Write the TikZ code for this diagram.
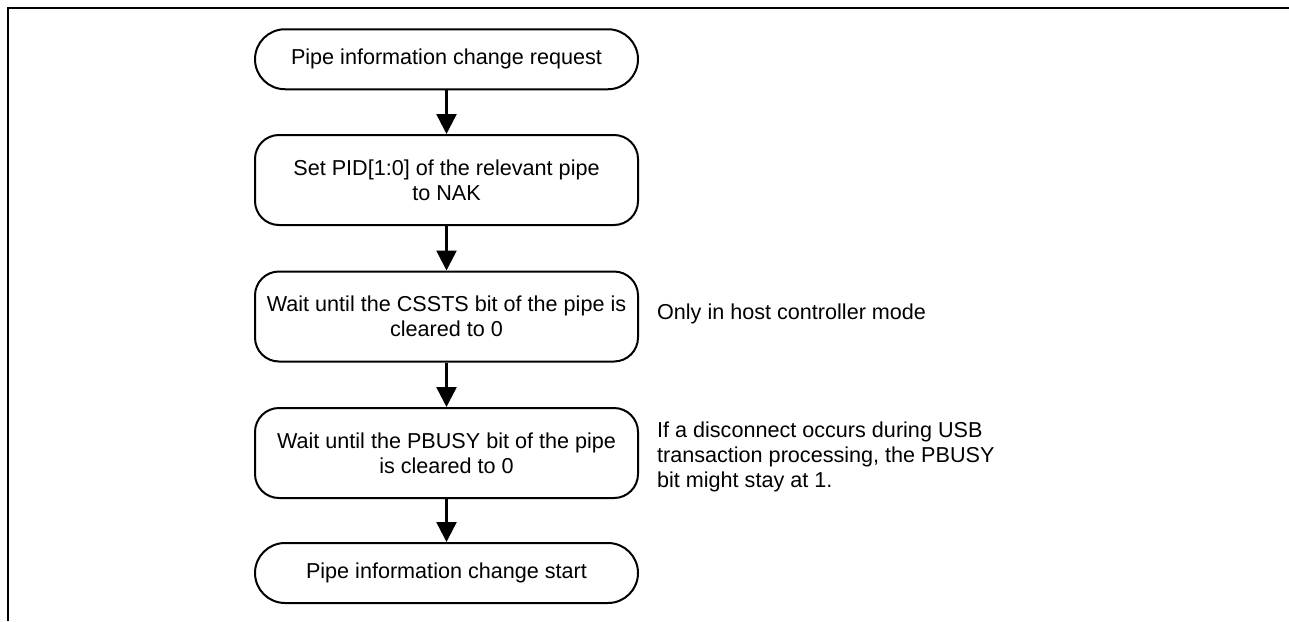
\documentclass[tikz,border=0pt]{standalone}
\usepackage{fontspec}
\setmainfont{Liberation Sans}
\usetikzlibrary{arrows.meta}
\tikzset{
  basefont/.style={font=\fontsize{10.8pt}{12.5pt}\selectfont},
  terminal/.style={draw, line width=1pt, rounded corners=15pt, minimum width=191.5pt, minimum height=30pt, align=center, inner sep=0pt, basefont},
  process/.style={draw, line width=1pt, rounded corners=12pt, minimum width=191.5pt, minimum height=45pt, align=center, inner sep=0pt, basefont},
  note/.style={align=left, inner sep=0pt, basefont},
  flow/.style={line width=1.25pt, -{Triangle[length=10pt,width=10pt]}},
  frame/.style={line width=1.25pt}
}
\begin{document}
\begin{tikzpicture}[x=0.5pt, y=-0.5pt]
\useasboundingbox (0,0) rectangle (1289,621);
\coordinate (fa) at (1289,8);
\coordinate (fb) at (8,8);
\coordinate (fc) at (8,621);
\draw[frame] (fa) -- (fb) -- (fc);

\node[terminal] (b1) at (446.5,59.25) {Pipe information change request};
\node[process] (b2) at (446.5,180) {Set PID[1:0] of the relevant pipe\\to NAK};
\node[process] (b3) at (446.5,316.5) {Wait until the CSSTS bit of the pipe is\\cleared to 0};
\node[process] (b4) at (446.5,453) {Wait until the PBUSY bit of the pipe\\is cleared to 0};
\node[terminal] (b5) at (446.5,573) {Pipe information change start};

\draw[flow] (b1) -- (b2);
\draw[flow] (b2) -- (b3);
\draw[flow] (b3) -- (b4);
\draw[flow] (b4) -- (b5);

\node[note, anchor=base west] (n1) at (656.7,319) {Only in host controller mode};
\node[note, anchor=base west] (n2) at (656.7,487.3) {If a disconnect occurs during USB\\transaction processing, the PBUSY\\bit might stay at 1.};
\end{tikzpicture}
\end{document}
